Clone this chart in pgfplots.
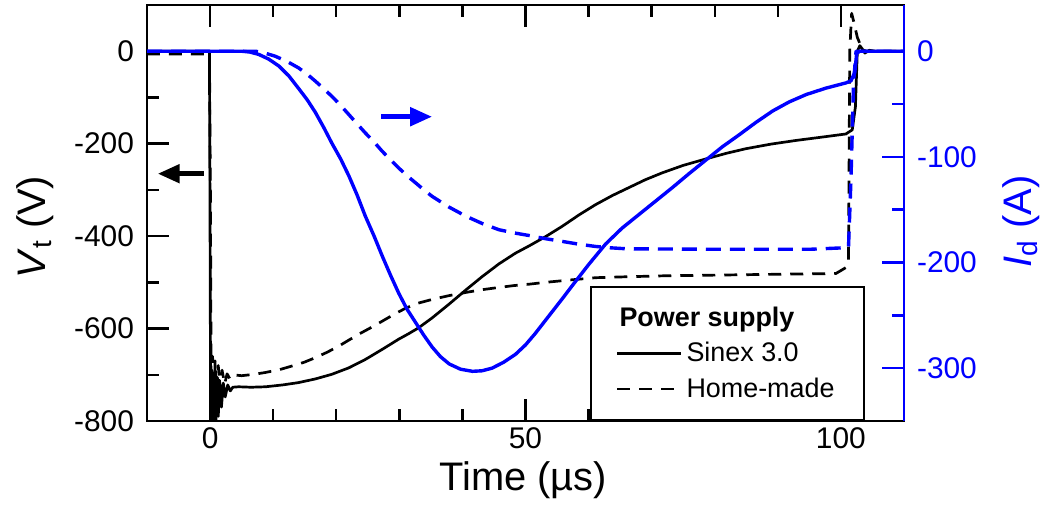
\documentclass[border=0pt]{standalone}
\usepackage{fontspec}
\setmainfont{Liberation Sans}
\usepackage{pgfplots}
\pgfplotsset{compat=1.18}
\usetikzlibrary{arrows.meta}

\definecolor{curblue}{RGB}{0,0,255}

\pgfplotsset{
  common/.style={
    scale only axis,
    width=378.5bp, height=208bp,
    xmin=-10, xmax=110,
    tick align=inside,
    major tick length=11bp,
    minor tick length=6bp,
    /pgf/number format/assume math mode=true,
    ticklabel style={font=\fontsize{15}{18}\selectfont},
    label style={font=\fontsize{20}{24}\selectfont},
    clip=true,
  },
}

\begin{document}
\begin{tikzpicture}
% ---------- terminal voltage (left axis) ----------
\begin{axis}[common, name=ax,
  ymin=-800, ymax=100,
  ytick={-800,-600,-400,-200,0},
  minor ytick={-700,-500,-300,-100},
  xtick={0,50,100},
  minor xtick={10,20,30,40,60,70,80,90},
  xtick pos=both, ytick pos=left,
  xticklabel pos=bottom,
  axis line style={line width=1.3bp},
  tick style={line width=1.2bp, black},
  yticklabel style={xshift=-3bp},
  xlabel={Time (µs)},
  xlabel style={at={(axis description cs:0.497,-0.166)}, anchor=base},
  ylabel={\textit{V}\textsubscript{t} (V)},
  ylabel style={at={(axis description cs:-0.148,0.466)}, anchor=center, rotate=0},
  legend style={at={(0.585,0.3245)}, anchor=north west, draw=black,
    line width=1bp, font=\fontsize{13.5}{16}\selectfont,
    inner xsep=12.5bp, inner ysep=8bp, row sep=2.5bp},
  legend cell align=left,
  legend image code/.code={\draw[#1] (0bp,0bp) -- (32bp,0bp);},
]
\addlegendimage{empty legend}
\addlegendentry{\hspace*{-33.5bp}\textbf{Power supply}}

% Sinex 3.0
\addplot[black, line width=1.35bp, line join=round] coordinates {
(-10,0) (-0.1,0) (0,-400) (0.1,-850) (0.3,-690) (0.5,-830) (0.7,-700)
(0.9,-810) (1.1,-705) (1.3,-790) (1.5,-712) (1.8,-770) (2.1,-718)
(2.4,-748) (2.8,-722) (3.2,-735) (3.6,-727) (4.5,-726) (6.5,-727) (8.8,-726)
(11.5,-722) (14,-717) (16.7,-709) (19.3,-699) (22,-685) (24.6,-667)
(27.3,-645) (29.9,-623) (31.5,-611) (33.1,-598) (35.2,-577) (37.9,-547)
(40.5,-517) (43.1,-488) (45.8,-460) (48.4,-437) (50.6,-421) (53.2,-401)
(55.8,-379) (58.5,-354) (61.1,-332) (63.8,-312) (66.4,-295) (69,-278)
(71.7,-263) (75,-247) (78.6,-233) (81.8,-221) (84.9,-211) (88.9,-201)
(92.9,-193) (96.9,-186) (100.8,-179) (101.8,-170) (102.3,-120) (102.6,0)
(103,12) (103.5,3) (104,0) (110,0)
};
\addlegendentry{Sinex 3.0}

% Home-made
\addplot[black, line width=1.35bp, line join=round, dash pattern=on 6.5bp off 4.5bp] coordinates {
(-10,-6) (-0.1,-6) (0.05,-300) (0.2,-820) (0.4,-660) (0.6,-790) (0.8,-670)
(1.0,-760) (1.3,-680) (1.6,-735) (1.9,-690) (2.3,-720) (2.7,-698)
(3.1,-708) (3.5,-700) (5,-702) (7,-699) (8.8,-695) (11,-689) (13,-681)
(14.9,-673) (16.7,-663) (18.6,-651) (20.4,-638) (22,-625) (23.6,-612)
(25.5,-598) (27.3,-584) (29.2,-569) (31,-556) (33,-545) (35.2,-537)
(37.8,-529) (40.5,-522) (43.1,-516) (45.8,-511) (48.2,-507) (50.6,-504)
(53.2,-500) (57,-495) (61.1,-490) (66,-488) (71.7,-486) (77,-485)
(82.3,-484) (87.6,-483) (92.9,-482) (99.2,-481) (100.8,-468) (101.2,-460)
(101.4,0) (101.7,82) (102.1,60) (102.6,30) (103.2,10) (103.8,-4) (104.5,2)
(105.5,0) (110,0)
};
\addlegendentry{Home-made}

\draw[black, line width=2.5bp, -{Triangle[length=11bp,width=9bp]}]
  (axis cs:-1,-265) -- (axis cs:-8.3,-265);
\end{axis}

% ---------- discharge current (right axis) ----------
\begin{axis}[common,
  axis y line*=right, axis x line=none,
  ymin=-350, ymax=43.75,
  ytick={-300,-200,-100,0},
  minor ytick={-250,-150,-50},
  axis line style={line width=1.3bp, curblue},
  tick style={line width=1.2bp, curblue},
  yticklabel style={curblue, xshift=3bp},
  ylabel={\textit{I}\textsubscript{d} (A)},
  ylabel style={curblue, at={(axis description cs:1.155,0.48)}, anchor=center, rotate=0},
]
% Sinex 3.0
\addplot[curblue, line width=1.7bp, line join=round] coordinates {
(-10,0) (5,0) (6.3,-0.8) (7.7,-3) (9.3,-7.5) (10.9,-14) (12.5,-23.5) (14,-35)
(15.4,-46) (16.7,-58) (18,-72) (19.3,-87) (20.7,-102) (22,-118) (23.3,-136)
(24.6,-156) (26,-175) (27.3,-194) (28.6,-212) (29.9,-229) (31.2,-244)
(32.6,-257) (33.9,-269) (35.2,-280) (36.5,-289) (37.9,-296) (39.7,-301)
(41.6,-303) (43.1,-302.5) (44.7,-300) (46.5,-294.5) (48.4,-287)
(50,-278) (51.5,-267.5) (53,-256) (54.5,-244.5) (56,-233) (57.4,-222)
(60,-202) (62.7,-182.5) (65.3,-167.5) (68,-154.5) (70.6,-142) (73.3,-129)
(75.9,-116) (78.6,-103) (81.2,-90.5) (83.9,-79) (86.5,-67.5) (89.2,-56.5)
(91.8,-48) (94.5,-41) (97.6,-35) (100.8,-30) (101.6,-28) (102.2,-20)
(102.5,-2) (103,0) (110,0)
};
% Home-made
\addplot[curblue, line width=1.7bp, line join=round, dash pattern=on 7.5bp off 4.5bp] coordinates {
(-10,0) (7.2,0) (8.7,-1.8) (10.3,-4.7) (12.2,-9.7) (14,-15.7) (15.4,-21.8)
(16.7,-28.4) (18,-35.4) (19.3,-42.7) (20.7,-51.3) (22,-60) (23.3,-68.7)
(24.6,-77.3) (26,-86) (27.3,-94.8) (28.6,-102.8) (29.9,-110.5) (31.2,-117.8)
(32.6,-124.7) (33.9,-131.3) (35.2,-137.4) (37.8,-147.3) (40.5,-156)
(43.1,-163) (45.8,-169) (48.2,-172) (50.6,-174.5) (53.2,-177.5) (55.8,-180)
(58.5,-182.7) (61.1,-184.8) (63.5,-186.1) (65.9,-187) (80,-187.5) (95,-187.5)
(100.8,-186) (101.2,-186) (101.6,-120) (102,-30) (102.4,0) (110,0)
};
\draw[curblue, line width=2.5bp, -{Triangle[length=11bp,width=9bp]}]
  (axis cs:27.1,-62) -- (axis cs:35.2,-62);
\end{axis}

\pgfresetboundingbox
\path[use as bounding box] ([shift={(-73.5bp,-43bp)}]ax.south west)
  rectangle ([shift={(71.5bp,2.5bp)}]ax.north east);
\end{tikzpicture}
\end{document}
